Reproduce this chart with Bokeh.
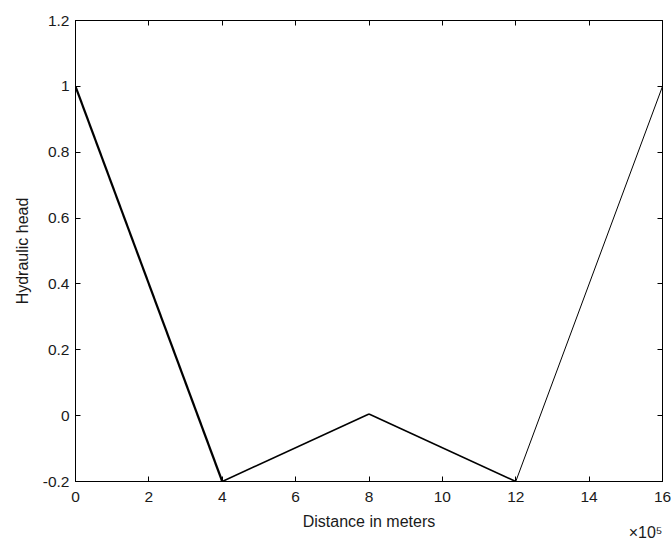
from bokeh.plotting import figure
from bokeh.models import LinearAxis, FixedTicker, Title
from bokeh.embed import file_html
from bokeh.resources import INLINE

# Data (distance in meters, hydraulic head)
distance = [0, 4e5, 8e5, 12e5, 16e5]
head = [1.0, -0.2, 0.005, -0.2, 1.0]
seg_widths = [2.2, 1.6, 1.6, 1.0]

x_ticks = [0, 2e5, 4e5, 6e5, 8e5, 10e5, 12e5, 14e5, 16e5]
x_tick_labels = ["0", "2", "4", "6", "8", "10", "12", "14", "16"]
y_ticks = [-0.2, 0, 0.2, 0.4, 0.6, 0.8, 1.0, 1.2]
y_tick_labels = ["-0.2", "0", "0.2", "0.4", "0.6", "0.8", "1", "1.2"]
x_scale_text = "×10⁵"

FONT = "Liberation Sans"
TXT = "#1a1a1a"

p = figure(width=671, height=539, output_backend="svg", toolbar_location=None,
           x_range=(0, 16e5), y_range=(-0.2, 1.2),
           x_axis_location=None, y_axis_location=None,
           min_border_left=75, min_border_right=9, min_border_top=20, min_border_bottom=58)
p.grid.visible = False
p.outline_line_color = "black"
p.outline_line_width = 1
p.background_fill_color = "white"
p.border_fill_color = "white"

def style(ax, show_labels):
    ax.major_tick_in = 5
    ax.major_tick_out = 0
    ax.minor_tick_in = 0
    ax.minor_tick_out = 0
    ax.axis_line_color = "black"
    ax.major_tick_line_color = "black"
    if show_labels:
        ax.major_label_text_font = FONT
        ax.major_label_text_font_size = "15.5px"
        ax.major_label_text_color = TXT
        ax.axis_label_text_font = FONT
        ax.axis_label_text_font_size = "16px"
        ax.axis_label_text_font_style = "normal"
        ax.axis_label_text_color = TXT
    else:
        ax.major_label_standoff = 0

xb = LinearAxis(ticker=FixedTicker(ticks=x_ticks), axis_label="Distance in meters",
                major_label_overrides=dict(zip(x_ticks, x_tick_labels)))
style(xb, True)
xb.major_label_standoff = 10
xb.axis_label_standoff = 8
p.add_layout(xb, "below")

yl = LinearAxis(ticker=FixedTicker(ticks=y_ticks), axis_label="Hydraulic head",
                major_label_overrides=dict(zip(y_ticks, y_tick_labels)))
style(yl, True)
yl.major_label_standoff = 6
yl.axis_label_standoff = 9
p.add_layout(yl, "left")

xt = LinearAxis(ticker=FixedTicker(ticks=x_ticks),
                major_label_overrides={t: "" for t in x_ticks})
style(xt, False)
p.add_layout(xt, "above")
yr = LinearAxis(ticker=FixedTicker(ticks=y_ticks),
                major_label_overrides={t: "" for t in y_ticks})
style(yr, False)
p.add_layout(yr, "right")

p.segment(x0=distance[:-1], y0=head[:-1], x1=distance[1:], y1=head[1:],
          line_color="black", line_width=seg_widths)

# x10^5 exponent marker under the right end of the x axis
p.add_layout(Title(text=x_scale_text, align="right", vertical_align="top", standoff=-18,
                   text_font=FONT, text_font_size="16px", text_font_style="normal",
                   text_color=TXT), "below")

open("out.html", "w").write(file_html(p, INLINE))
